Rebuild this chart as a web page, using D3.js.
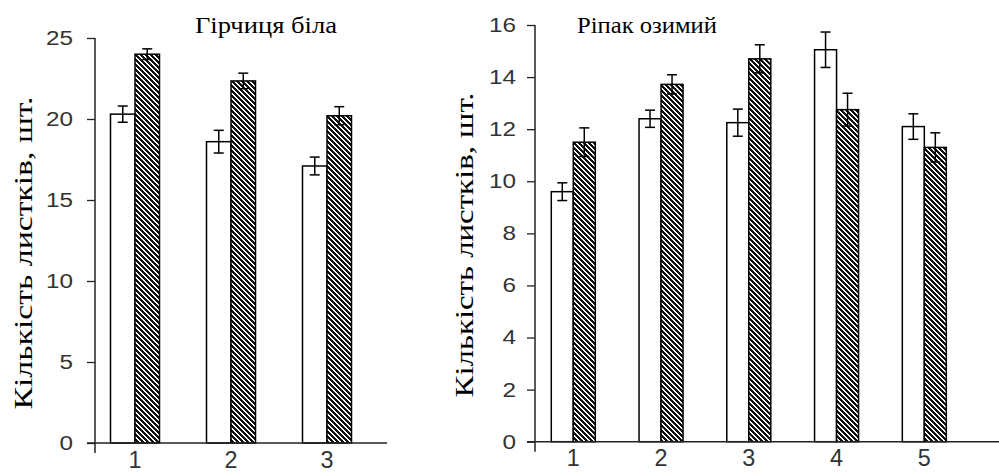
<!DOCTYPE html>
<html>
<head>
<meta charset="utf-8">
<script src="https://cdn.jsdelivr.net/npm/d3@7"></script>
<style>
  body { margin: 0; background: #fff; }
  svg { display: block; }
  .tick text { font-family: "Liberation Sans", Arial, sans-serif; fill: #333; }
  .serif { font-family: "Liberation Serif", "Times New Roman", serif; fill: #000; }
</style>
</head>
<body>
<svg id="chart" width="999" height="475"></svg>
<script>
// Гірчиця біла
var mustardCats = ['1', '2', '3'],
    mustardWhite = [20.3, 18.6, 17.1],
    mustardWhiteErr = [0.5, 0.7, 0.55],
    mustardHatch = [24.0, 22.35, 20.2],
    mustardHatchErr = [0.33, 0.48, 0.56],
    mustardTicks = [0, 5, 10, 15, 20, 25]

// Ріпак озимий
var rapeCats = ['1', '2', '3', '4', '5'],
    rapeWhite = [9.6, 12.4, 12.25, 15.05, 12.1],
    rapeWhiteErr = [0.34, 0.33, 0.52, 0.68, 0.49],
    rapeHatch = [11.5, 13.72, 14.7, 12.75, 11.3],
    rapeHatchErr = [0.55, 0.37, 0.54, 0.63, 0.56],
    rapeTicks = [0, 2, 4, 6, 8, 10, 12, 14, 16]

var yLabel = 'Кількість листків, шт.'

var svg = d3.select('#chart')

// pixel hatch, stripes going down to the right
var P = 5, cells = []
for (var r = 0; r < P; r++)
    for (var k = 0; k < 3; k++) cells.push([(r + k) % P, r])

var pat = svg.append('defs').append('pattern')
    .attr('id', 'hatch')
    .attr('patternUnits', 'userSpaceOnUse')
    .attr('width', P)
    .attr('height', P)
pat.append('rect').attr('width', P).attr('height', P).attr('fill', '#fff')
pat.selectAll('rect.px').data(cells).enter().append('rect')
    .attr('class', 'px')
    .attr('x', function(d){ return d[0] })
    .attr('y', function(d){ return d[1] })
    .attr('width', 1).attr('height', 1)
    .attr('fill', '#111')
    .attr('shape-rendering', 'crispEdges')

function drawPanel(o){
    var g = svg.append('g')
    var y = d3.scaleLinear().domain([0, o.ticks[o.ticks.length - 1]]).range([o.y0, o.y1])
    var x = d3.scaleBand().domain(o.cats).range(o.xRange)
    var xi = d3.scaleBand().domain(['w', 'h']).range([(x.bandwidth() - 2 * o.barW) / 2, (x.bandwidth() + 2 * o.barW) / 2])

    var rows = o.cats.map(function(c, i){
        return [
            {cat: c, k: 'w', v: o.white[i], e: o.whiteErr[i]},
            {cat: c, k: 'h', v: o.hatch[i], e: o.hatchErr[i]}
        ]
    }).flat()

    g.selectAll('rect.bar').data(rows).enter().append('rect')
        .attr('class', 'bar')
        .attr('x', function(d){ return x(d.cat) + xi(d.k) })
        .attr('y', function(d){ return y(d.v) })
        .attr('width', xi.bandwidth())
        .attr('height', function(d){ return y(0) - y(d.v) })
        .attr('fill', function(d){ return d.k == 'h' ? 'url(#hatch)' : '#fff' })
        .attr('stroke', '#000')
        .attr('stroke-width', 1.5)

    var eb = g.selectAll('g.err').data(rows).enter().append('g')
        .attr('class', 'err')
        .attr('transform', function(d){ return 'translate(' + (x(d.cat) + xi(d.k) + xi.bandwidth() / 2) + ',0)' })
        .attr('stroke', '#000')
        .attr('stroke-width', 1.5)
    eb.append('line')
        .attr('y1', function(d){ return y(d.v + d.e) })
        .attr('y2', function(d){ return y(d.v - d.e) })
    eb.append('line').attr('x1', -5).attr('x2', 5)
        .attr('y1', function(d){ return y(d.v + d.e) })
        .attr('y2', function(d){ return y(d.v + d.e) })
    eb.append('line').attr('x1', -5).attr('x2', 5)
        .attr('y1', function(d){ return y(d.v - d.e) })
        .attr('y2', function(d){ return y(d.v - d.e) })

    var ya = g.append('g')
        .attr('transform', 'translate(' + o.axisX + ',0)')
        .call(d3.axisLeft(y).tickValues(o.ticks).tickSize(8).tickPadding(o.pad))
    ya.select('.domain').remove()
    ya.selectAll('.tick line').attr('stroke', '#222').attr('stroke-width', 1.3)
    ya.selectAll('.tick text')
        .style('font-size', '20px')
        .attr('textLength', function(d){ return 13.5 * String(d).length })
        .attr('lengthAdjust', 'spacingAndGlyphs')

    g.append('line')
        .attr('x1', o.axisX).attr('x2', o.axisX)
        .attr('y1', y(o.ticks[o.ticks.length - 1])).attr('y2', y(0) + 10)
        .attr('stroke', '#222').attr('stroke-width', 1.5)
    g.append('line')
        .attr('x1', o.axisX - 8).attr('x2', o.xEnd)
        .attr('y1', y(0)).attr('y2', y(0))
        .attr('stroke', '#222').attr('stroke-width', 1.5)

    var xa = g.append('g')
        .attr('transform', 'translate(0,' + y(0) + ')')
        .call(d3.axisBottom(x).tickSize(0).tickPadding(o.xPad))
    xa.select('.domain').remove()
    xa.selectAll('.tick text')
        .style('font-size', '23px')
        .attr('textLength', 13)
        .attr('lengthAdjust', 'spacingAndGlyphs')

    g.append('text')
        .attr('class', 'serif')
        .attr('x', o.titleX).attr('y', 33)
        .style('font-size', '23px')
        .attr('textLength', o.titleLen)
        .attr('lengthAdjust', 'spacingAndGlyphs')
        .text(o.title)

    g.append('text')
        .attr('class', 'serif')
        .attr('transform', 'translate(' + o.labX + ',' + o.labY + ') rotate(-90)')
        .attr('text-anchor', 'middle')
        .style('font-size', '25px')
        .attr('textLength', o.labLen)
        .attr('lengthAdjust', 'spacingAndGlyphs')
        .text(yLabel)
}

drawPanel({
    title: 'Гірчиця біла', titleX: 195, titleLen: 142,
    cats: mustardCats, white: mustardWhite, whiteErr: mustardWhiteErr,
    hatch: mustardHatch, hatchErr: mustardHatchErr, ticks: mustardTicks,
    y0: 443, y1: 38, xRange: [87, 375], barW: 24.5,
    axisX: 95, xEnd: 387, pad: 14, xPad: 9,
    labX: 32, labY: 253, labLen: 313
})

drawPanel({
    title: 'Ріпак озимий', titleX: 577, titleLen: 140,
    cats: rapeCats, white: rapeWhite, whiteErr: rapeWhiteErr,
    hatch: rapeHatch, hatchErr: rapeHatchErr, ticks: rapeTicks,
    y0: 441.7, y1: 25, xRange: [529.4, 968.2], barW: 22,
    axisX: 535, xEnd: 999, pad: 11, xPad: 8,
    labX: 473, labY: 245, labLen: 305
})
</script>
</body>
</html>
